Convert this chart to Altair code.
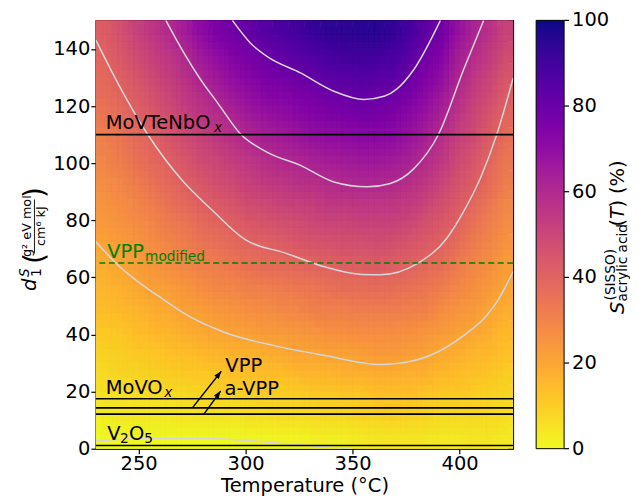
import math
import altair as alt
import pandas as pd

# ---------------- values ----------------
# selectivity field, one list per temperature column (bottom -> top)
T_CENTERS = [233.75, 241.25, 248.75, 256.25, 263.75, 271.25, 278.75, 286.25, 293.75,
             301.25, 308.75, 316.25, 323.75, 331.25, 338.75, 346.25, 353.75, 361.25,
             368.75, 376.25, 383.75, 391.25, 398.75, 406.25, 413.75, 421.25]
D_CENTERS = [3.75, 11.25, 18.75, 26.25, 33.75, 41.25, 48.75, 56.25, 63.75, 71.25,
             78.75, 86.25, 93.75, 101.25, 108.75, 116.25, 123.75, 131.25, 138.75, 146.25]
CELL_HALF = 3.75
S_COLUMNS = [
    [0, 2, 5, 7, 9, 11, 14, 16, 18, 20, 23, 25, 27, 29, 31, 34, 36, 38, 40, 42],
    [0, 3, 5, 8, 10, 12, 15, 17, 20, 22, 25, 27, 29, 32, 34, 36, 39, 41, 44, 46],
    [0, 3, 6, 8, 11, 14, 16, 19, 22, 24, 27, 29, 32, 35, 37, 40, 42, 45, 48, 51],
    [0, 3, 6, 9, 12, 15, 18, 21, 24, 26, 29, 32, 35, 38, 40, 43, 46, 49, 52, 55],
    [0, 3, 7, 10, 13, 16, 19, 22, 26, 29, 32, 35, 38, 41, 44, 47, 50, 53, 56, 59],
    [0, 4, 7, 11, 14, 18, 21, 24, 28, 31, 34, 38, 41, 44, 48, 51, 54, 57, 60, 64],
    [0, 4, 8, 11, 15, 19, 22, 26, 30, 34, 37, 41, 44, 48, 51, 55, 58, 62, 66, 70],
    [0, 4, 8, 12, 16, 20, 24, 28, 31, 35, 39, 43, 47, 50, 54, 58, 62, 66, 70, 75],
    [0, 4, 8, 13, 17, 21, 25, 29, 33, 37, 41, 45, 49, 53, 57, 61, 66, 70, 74, 78],
    [1, 5, 9, 13, 17, 22, 26, 30, 35, 39, 43, 48, 52, 56, 60, 65, 69, 73, 77, 81],
    [1, 5, 10, 14, 18, 23, 27, 31, 36, 40, 45, 49, 54, 58, 63, 67, 72, 76, 80, 85],
    [1, 6, 10, 14, 19, 23, 28, 32, 37, 41, 46, 51, 55, 60, 64, 69, 73, 78, 82, 87],
    [1, 6, 10, 15, 20, 24, 29, 33, 38, 43, 47, 52, 57, 61, 66, 71, 75, 80, 85, 89],
    [2, 6, 11, 16, 20, 25, 30, 34, 39, 44, 49, 53, 58, 63, 68, 73, 77, 82, 87, 92],
    [2, 7, 11, 16, 21, 26, 31, 35, 40, 45, 50, 55, 59, 64, 69, 74, 79, 84, 89, 94],
    [2, 7, 12, 17, 21, 26, 31, 36, 41, 46, 50, 55, 60, 65, 70, 75, 80, 85, 90, 94],
    [3, 8, 12, 17, 22, 27, 32, 36, 41, 46, 51, 56, 61, 66, 71, 76, 81, 86, 90, 95],
    [4, 8, 13, 18, 23, 27, 32, 37, 42, 47, 51, 56, 61, 66, 71, 76, 80, 85, 90, 95],
    [4, 9, 13, 18, 23, 27, 32, 36, 41, 46, 51, 55, 60, 65, 70, 74, 79, 84, 88, 93],
    [4, 8, 13, 17, 22, 26, 31, 35, 40, 44, 49, 54, 58, 63, 67, 71, 76, 80, 85, 89],
    [4, 8, 12, 17, 21, 25, 30, 34, 38, 42, 46, 51, 55, 59, 63, 67, 71, 75, 79, 83],
    [3, 7, 11, 15, 19, 23, 27, 32, 36, 40, 43, 47, 51, 55, 58, 62, 66, 70, 74, 78],
    [3, 7, 11, 14, 18, 21, 25, 29, 32, 36, 40, 43, 46, 49, 52, 56, 59, 62, 65, 69],
    [4, 7, 10, 13, 16, 20, 23, 26, 29, 32, 35, 39, 42, 45, 48, 50, 53, 56, 59, 62],
    [4, 7, 9, 12, 15, 18, 20, 23, 26, 29, 31, 34, 37, 39, 42, 45, 48, 51, 54, 57],
    [3, 6, 8, 10, 13, 15, 18, 20, 22, 25, 27, 29, 32, 34, 36, 39, 42, 45, 48, 51],
]

# contour lines (levels 0, 20, 40, 60, 80)
C0_T = [230, 251, 282, 313, 349]
C0_D = [2.7, 3.6, 3.6, 2.1, 0]
C20_T = [230, 240.9, 253.3, 261.1, 272, 289.9, 313.2, 336.5, 363, 370.7, 386.3, 401.8, 412.7, 418.1, 423.6, 425]
C20_D = [72.5, 63.9, 56.5, 52.5, 47.0, 40.8, 36.1, 32.7, 29.5, 29.8, 32.7, 39.6, 46.7, 52.3, 59.9, 62.0]
C40_T = [230, 241, 254.1, 270.4, 284.4, 300, 318.6, 335.8, 354.4, 363, 380.1, 394.1, 401.8, 409.6, 417.4, 425]
C40_D = [143.1, 127, 110.2, 93.9, 83.5, 73.1, 68.5, 63.9, 61.0, 60.9, 64.8, 73.8, 83.0, 94.6, 110.2, 129.8]
C60_T = [262.7, 271.2, 279, 286.8, 297.6, 310.1, 325.6, 341.2, 356.7, 367.6, 378.5, 390.2, 401.8, 411.2]
C60_D = [150, 138.5, 129.2, 121.2, 110.2, 103.8, 99.2, 93.4, 91.7, 92.9, 98.0, 110.2, 132.7, 150]
C80_T = [293.8, 302.3, 310.1, 325.6, 341.2, 355.2, 365, 370.7, 378.5, 391]
C80_D = [150, 142, 137.3, 131.6, 125.2, 122.3, 123.5, 126.0, 132.7, 150]

# catalyst reference lines
BLACK_LINE_D = [110, 17.5, 14.3, 12.1, 1.1]
GREEN_LINE_D = [65]

# arrows (VPP, a-VPP)
ARROW_T0 = [275.1, 280.5]
ARROW_D0 = [14.3, 12.1]
ARROW_T1 = [288.6, 288.3]
ARROW_D1 = [27.1, 20.2]

# axis ticks
X_TICKS = [250, 300, 350, 400]
Y_TICKS = [0, 20, 40, 60, 80, 100, 120, 140]
CBAR_TICKS = [0, 20, 40, 60, 80, 100]
CBAR_RANGE = [0, 100]

# ---------------- layout ----------------
W, H = 418, 429
REF_H = 433
PLOT_LEFT, PLOT_TOP = 95, 18          # reference plot origin, for title placement
YSHIFT = (H - REF_H) / 2
T_DOM = [230, 425]
D_DOM = [0, 150]
FONT = "DejaVu Sans"
BIG = 19.5
SMALL = 13.7
CB_X = W + 23          # colour-bar left edge (px from plot left)
CB_W = 28

xs = alt.Scale(domain=T_DOM, nice=False, zero=False)
ys = alt.Scale(domain=D_DOM, nice=False, zero=False)
cs = alt.Scale(scheme="plasma", reverse=True, domain=CBAR_RANGE, clamp=True)
XT = "Temperature (°C)"

heat_rows = []
for i, t in enumerate(T_CENTERS):
    for j, d in enumerate(D_CENTERS):
        heat_rows.append({"Tc": t, "dc": d, "S": S_COLUMNS[i][j]})
heat_df = pd.DataFrame(heat_rows)

LEGEND = alt.Legend(
    type="gradient", title=None, orient="right", offset=23, padding=0,
    gradientLength=H, gradientThickness=CB_W, direction="vertical",
    values=CBAR_RANGE, labelOpacity=0, labelFontSize=1, labelOffset=0,
    gradientStrokeColor="black", gradientStrokeWidth=1)


def heat_layer(dx, dy, opacity):
    # the same cells, drawn with a small shift and blended, for a smooth rendering
    return alt.Chart(heat_df).transform_calculate(
        T0=f"datum.Tc - {CELL_HALF} + ({dx})", T1=f"datum.Tc + {CELL_HALF} + ({dx})",
        d0=f"datum.dc - {CELL_HALF} + ({dy})", d1=f"datum.dc + {CELL_HALF} + ({dy})",
    ).mark_rect(clip=True, opacity=opacity, strokeWidth=0).encode(
        x=alt.X("T0:Q", scale=xs, title=XT, axis=alt.Axis(values=X_TICKS)),
        x2="T1:Q",
        y=alt.Y("d0:Q", scale=ys, title=None, axis=alt.Axis(values=Y_TICKS)),
        y2="d1:Q",
        color=alt.Color("S:Q", scale=cs, legend=LEGEND),
    )


third = 2 * CELL_HALF / 3
heat_layers = [heat_layer(0, 0, 1)]
k = 0
for ddx in (-third, 0, third):
    for ddy in (-third, 0, third):
        k += 1
        heat_layers.append(heat_layer(ddx, ddy, 1.0 / k))

crow = []
for lvl, (tt, dd) in enumerate([(C0_T, C0_D), (C20_T, C20_D), (C40_T, C40_D),
                                 (C60_T, C60_D), (C80_T, C80_D)]):
    for kk, (t, d) in enumerate(zip(tt, dd)):
        crow.append({"T": t, "d": d, "lvl": lvl, "k": kk})
cdf = pd.DataFrame(crow)
contours = alt.Chart(cdf).mark_line(color="#d6d6d6", strokeWidth=1.5, clip=True,
                                    interpolate="monotone").encode(
    x=alt.X("T:Q", scale=xs, title=XT),
    y=alt.Y("d:Q", scale=ys, title=None),
    detail="lvl:N", order="k:Q")

black_lines = alt.Chart(pd.DataFrame({"d": BLACK_LINE_D})).mark_rule(
    color="black", strokeWidth=1.6).encode(y=alt.Y("d:Q", scale=ys, title=None))
green_line = alt.Chart(pd.DataFrame({"d": GREEN_LINE_D})).mark_rule(
    color="green", strokeWidth=1.5, strokeDash=[6, 3.5]).encode(
    y=alt.Y("d:Q", scale=ys, title=None))

px_per_T = W / (T_DOM[1] - T_DOM[0])
px_per_d = H / (D_DOM[1] - D_DOM[0])
arr_df = pd.DataFrame({"T0": ARROW_T0, "d0": ARROW_D0, "T1": ARROW_T1, "d1": ARROW_D1})
arr_df["ang"] = [math.degrees(math.atan2((t1 - t0) * px_per_T, (d1 - d0) * px_per_d))
                 for t0, d0, t1, d1 in zip(ARROW_T0, ARROW_D0, ARROW_T1, ARROW_D1)]
arrows = alt.Chart(arr_df).mark_rule(color="black", strokeWidth=1.4).encode(
    x=alt.X("T0:Q", scale=xs, title=XT), y=alt.Y("d0:Q", scale=ys, title=None),
    x2="T1:Q", y2="d1:Q")
heads = alt.Chart(arr_df).mark_point(shape="M0,0L-0.38,1L0.38,1Z", filled=True,
                                     size=230, color="black", opacity=1).encode(
    x=alt.X("T1:Q", scale=xs, title=XT), y=alt.Y("d1:Q", scale=ys, title=None),
    angle=alt.Angle("ang:Q", scale=None))

# colour-bar tick labels and ticks: the colour range spans the same height as the
# plot, so they are placed through the plot's own y scale
cb_df = pd.DataFrame({"v": CBAR_TICKS, "lab": [str(v) for v in CBAR_TICKS]})
cb_map = (f"(datum.v - {CBAR_RANGE[0]}) / ({CBAR_RANGE[1]} - {CBAR_RANGE[0]}) * "
          f"({D_DOM[1]} - {D_DOM[0]}) + {D_DOM[0]}")
cb_labels = alt.Chart(cb_df).transform_calculate(dpos=cb_map, px=f"{CB_X + CB_W + 8}").mark_text(
    align="left", baseline="middle", font=FONT, fontSize=BIG, color="black").encode(
    x=alt.X("px:Q", scale=None, axis=None), y=alt.Y("dpos:Q", scale=ys, title=None),
    text="lab:N")
cb_ticks = alt.Chart(cb_df).transform_calculate(
    dpos=cb_map, px=f"{CB_X + CB_W}", px2=f"{CB_X + CB_W + 5}").mark_rule(
    color="black", strokeWidth=1.2).encode(
    x=alt.X("px:Q", scale=None, axis=None), x2="px2:Q",
    y=alt.Y("dpos:Q", scale=ys, title=None))


def data_text(rows, color="black", italic=False):
    df = pd.DataFrame(rows, columns=["txt", "T", "d", "fs"])
    return alt.Chart(df).mark_text(align="left", baseline="alphabetic", font=FONT,
                                   color=color,
                                   fontStyle="italic" if italic else "normal").encode(
        x=alt.X("T:Q", scale=xs, title=XT), y=alt.Y("d:Q", scale=ys, title=None),
        text="txt:N", size=alt.Size("fs:Q", scale=None))


labels_up = data_text([
    ["MoVTeNbO", 234.6, 112.1, BIG], ["MoVO", 234.6, 19.2, BIG],
    ["V", 235.3, 3.05, BIG], ["2", 241.3, 1.9, SMALL],
    ["O", 245.5, 3.05, BIG], ["5", 252.6, 1.9, SMALL],
    ["VPP", 290.5, 26.8, BIG], ["a-VPP", 290.1, 18.7, BIG]])
labels_it = data_text([["x", 285.2, 110.9, SMALL], ["x", 261.9, 18.0, SMALL]], italic=True)
labels_green = data_text([["VPP", 235.3, 66.7, BIG], ["modified", 253.0, 65.6, SMALL]],
                         color="green")


def pix_text(rows, italic=False, angle=270):
    df = pd.DataFrame(rows, columns=["txt", "X", "Y", "fs"])
    df["px"] = df["X"] - PLOT_LEFT
    df["py"] = df["Y"] - PLOT_TOP + YSHIFT
    return alt.Chart(df).mark_text(align="left", baseline="alphabetic", font=FONT,
                                   color="black", angle=angle,
                                   fontStyle="italic" if italic else "normal").encode(
        x=alt.X("px:Q", scale=None, axis=None), y=alt.Y("py:Q", scale=None, axis=None),
        text="txt:N", size=alt.Size("fs:Q", scale=None))


# y-axis title  d_1^S ( g^2 eV mol / cm^6 kJ )
ytitle_it = pix_text([["d", 35.5, 291, BIG], ["S", 28.5, 277, SMALL]], italic=True)
ytitle_up = pix_text([["1", 40, 277, SMALL], ["(", 43, 264, 28],
                      ["g² eV mol", 30.5, 257, 12.8], ["cm⁶ kJ", 44.5, 246, 12.8],
                      [")", 43, 198, 28]])
frac = alt.Chart(pd.DataFrame({"px": [33.5 - PLOT_LEFT], "py": [199.5 - PLOT_TOP + YSHIFT],
                               "py2": [253.5 - PLOT_TOP + YSHIFT]})).mark_rule(
    color="black", strokeWidth=0.9).encode(
    x=alt.X("px:Q", scale=None, axis=None), y=alt.Y("py:Q", scale=None, axis=None),
    y2="py2:Q")

# colour-bar title  S^(SISSO)_acrylic acid (T) (%)
CX = 624
ctitle_it = pix_text([["S", CX, 314, BIG], ["T", CX, 219, BIG]], italic=True)
ctitle_up = pix_text([["(SISSO)", CX - 9.5, 300.5, SMALL], ["acrylic acid", CX + 2.5, 301.5, SMALL],
                      ["(", CX, 226.5, BIG], [")", CX, 207.4, BIG], ["(%)", CX, 194, BIG]])

chart = alt.layer(
    *heat_layers, contours, black_lines, green_line, arrows, heads,
    labels_up, labels_it, labels_green, cb_ticks, cb_labels,
    ytitle_it, ytitle_up, frac, ctitle_it, ctitle_up,
).properties(
    width=W, height=H,
    padding={"left": 10, "top": 2, "right": 0, "bottom": 1.5},
).configure(font=FONT).configure_view(
    stroke="black", strokeWidth=1.2
).configure_axis(
    labelFont=FONT, labelFontSize=BIG, labelColor="black",
    titleFont=FONT, titleFontSize=BIG, titleColor="black", titleFontWeight="normal",
    tickColor="black", tickSize=5, tickWidth=1.2, domainColor="black", domainWidth=1.2,
    labelPadding=1, titlePadding=3.5, grid=False,
)

chart.save("out.html", embed_options={"renderer": "svg", "actions": False})
